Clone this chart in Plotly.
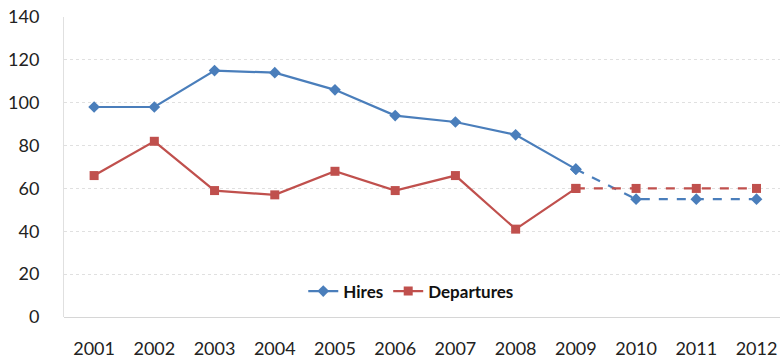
import plotly.graph_objects as go

years = ["2001", "2002", "2003", "2004", "2005", "2006",
         "2007", "2008", "2009", "2010", "2011", "2012"]
hires = [98, 98, 115, 114, 106, 94, 91, 85, 69, 55, 55, 55]
departures = [66, 82, 59, 57, 68, 59, 66, 41, 60, 60, 60, 60]
split = 8  # index of 2009: actuals up to here, projections after

blue = "#4A7EBB"
red = "#C0504D"

fig = go.Figure()

# Solid lines for actuals
fig.add_trace(go.Scatter(
    x=years[:split + 1], y=hires[:split + 1], name="Hires",
    mode="lines+markers", line=dict(color=blue, width=2.2),
    marker=dict(symbol="diamond", size=9, color=blue)))
fig.add_trace(go.Scatter(
    x=years[:split + 1], y=departures[:split + 1], name="Departures",
    mode="lines+markers", line=dict(color=red, width=2.2),
    marker=dict(symbol="square", size=9, color=red)))

# Dashed lines for projections
fig.add_trace(go.Scatter(
    x=years[split:], y=hires[split:], showlegend=False,
    mode="lines+markers", line=dict(color=blue, width=2.2, dash="dash"),
    marker=dict(symbol="diamond", size=9, color=blue)))
fig.add_trace(go.Scatter(
    x=years[split:], y=departures[split:], showlegend=False,
    mode="lines+markers", line=dict(color=red, width=2.2, dash="dash"),
    marker=dict(symbol="square", size=9, color=red)))

fig.update_layout(
    width=780, height=359,
    margin=dict(l=64, r=0, t=17, b=42),
    paper_bgcolor="white", plot_bgcolor="white",
    font=dict(family="Lato, Open Sans, sans-serif", size=18, color="#222"),
    legend=dict(orientation="h", x=0.485, y=0.025, xanchor="center",
                yanchor="bottom", font=dict(size=17, color="#111",
                                            weight="bold"),
                bgcolor="rgba(0,0,0,0)", itemwidth=30),
    xaxis=dict(type="category", range=[-0.5, 11.39],
               showgrid=False, showline=False, zeroline=False,
               ticks="", ticklabelstandoff=19),
    yaxis=dict(range=[0, 140], dtick=20, showgrid=True,
               gridcolor="#E0E0E0", griddash="dot", gridwidth=1,
               zeroline=True, zerolinecolor="#D6D6D6", zerolinewidth=1,
               showline=True, linecolor="#E0E0E0", linewidth=1,
               ticks="", ticklabelstandoff=20),
)

fig.write_html("out.html")
